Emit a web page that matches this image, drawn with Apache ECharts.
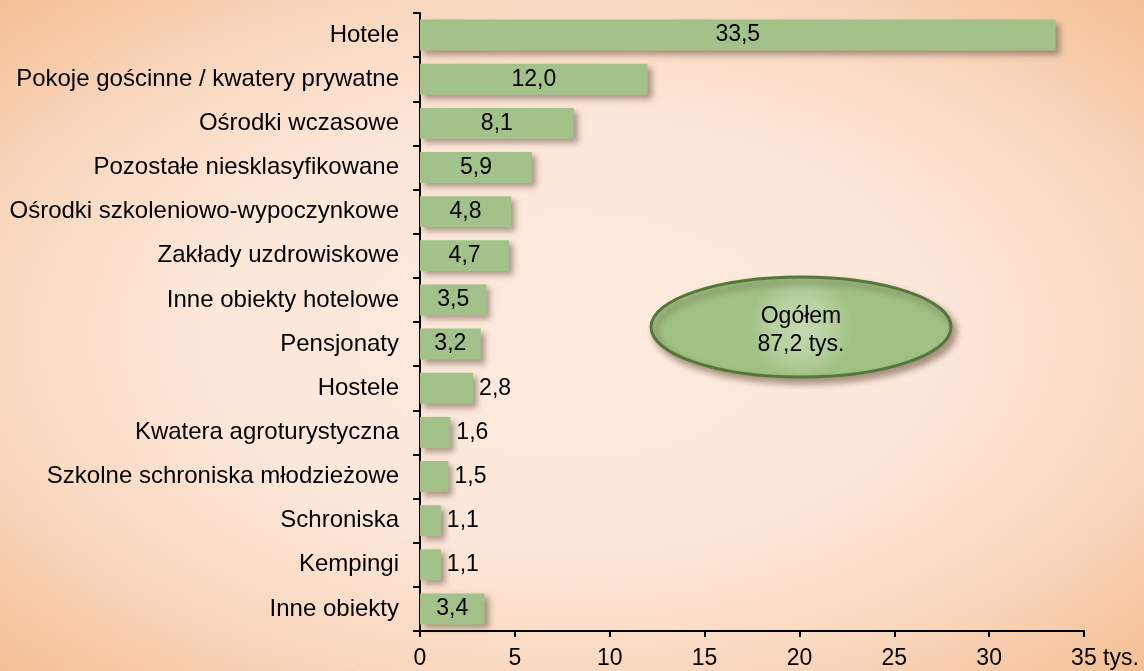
<!DOCTYPE html>
<html>
<head>
<meta charset="utf-8">
<script src="https://cdn.jsdelivr.net/npm/echarts@6/dist/echarts.min.js"></script>
<style>
  html, body { margin: 0; padding: 0; }
  #chart {
    width: 1144px;
    height: 671px;
    background: radial-gradient(ellipse farthest-corner at 50% 50%, #fdebde 0%, #fde8da 45%, #f9d6bc 75%, #f4bf92 100%);
  }
</style>
</head>
<body>
<div id="chart"></div>
<script>
// kategorie obiektów noclegowych (tys.)
const categories = [
  "Hotele",
  "Pokoje gościnne / kwatery prywatne",
  "Ośrodki wczasowe",
  "Pozostałe niesklasyfikowane",
  "Ośrodki szkoleniowo-wypoczynkowe",
  "Zakłady uzdrowiskowe",
  "Inne obiekty hotelowe",
  "Pensjonaty",
  "Hostele",
  "Kwatera agroturystyczna",
  "Szkolne schroniska młodzieżowe",
  "Schroniska",
  "Kempingi",
  "Inne obiekty",
];
const values = [33.5, 12.0, 8.1, 5.9, 4.8, 4.7, 3.5, 3.2, 2.8, 1.6, 1.5, 1.1, 1.1, 3.4];
const xTicks = [0, 5, 10, 15, 20, 25, 30, 35];
const unit = "tys.";

const fmt = (v) => v.toFixed(1).replace(".", ",");
const total = values.reduce((a, b) => a + b, 0);
const font = "Liberation Sans, Arial, sans-serif";
const xMax = xTicks[xTicks.length - 1];

const chart = echarts.init(document.getElementById("chart"));

const option = {
  animation: false,
  textStyle: { fontFamily: font },
  grid: { left: 420, right: 60, top: 13, bottom: 40 },
  xAxis: {
    type: "value",
    min: xTicks[0],
    max: xMax,
    interval: 5,
    splitLine: { show: false },
    axisLine: { show: true, lineStyle: { color: "#000", width: 2 } },
    axisTick: { show: true, length: 6, lineStyle: { color: "#000", width: 2 } },
    axisLabel: {
      color: "#000",
      fontSize: 23,
      margin: 16,
      fontFamily: font,
      // jednostka dopisana za ostatnią wartością, "35" zostaje na kresce
      formatter: (v) => (v === xMax ? "{p|}" + v + "{u| " + unit + "}" : String(v)),
      rich: {
        p: { width: 42, fontSize: 23, fontFamily: font },
        u: { fontSize: 23, fontFamily: font, color: "#000" },
      },
    },
  },
  yAxis: {
    type: "category",
    inverse: true,
    data: categories,
    axisLine: { show: true, lineStyle: { color: "#000", width: 2 } },
    axisTick: { show: true, length: 7, lineStyle: { color: "#000", width: 2 } },
    axisLabel: { color: "#000", fontSize: 24, margin: 21, fontFamily: font },
  },
  series: [
    {
      type: "bar",
      barCategoryGap: "30%",
      data: values.map((v) => ({
        value: v,
        label: v >= 3 ? { position: "inside" } : { position: "right", distance: 6 },
      })),
      itemStyle: {
        color: "#a2c28a",
        shadowColor: "rgba(90,70,50,0.5)",
        shadowBlur: 6,
        shadowOffsetX: 4,
        shadowOffsetY: 4,
      },
      label: {
        show: true,
        color: "#000",
        fontSize: 23,
        fontFamily: font,
        formatter: (p) => fmt(p.value),
      },
    },
  ],
  graphic: [
    {
      type: "ellipse",
      shape: { cx: 801, cy: 327, rx: 150, ry: 50 },
      style: {
        fill: {
          type: "radial",
          x: 0.5,
          y: 0.5,
          r: 0.5,
          colorStops: [
            { offset: 0, color: "#c5d9b1" },
            { offset: 0.55, color: "#b8d1a0" },
            { offset: 1, color: "#a0c185" },
          ],
        },
        stroke: "#557838",
        lineWidth: 3,
        shadowColor: "rgba(60,40,20,0.45)",
        shadowBlur: 7,
        shadowOffsetX: 4,
        shadowOffsetY: 5,
      },
      z: 10,
    },
    {
      type: "text",
      x: 801,
      y: 331,
      style: {
        text: "Ogółem\n" + fmt(total) + " " + unit,
        fill: "#000",
        font: "23px " + font,
        align: "center",
        verticalAlign: "middle",
        lineHeight: 28,
      },
      z: 11,
    },
  ],
};

chart.setOption(option);
</script>
</body>
</html>
